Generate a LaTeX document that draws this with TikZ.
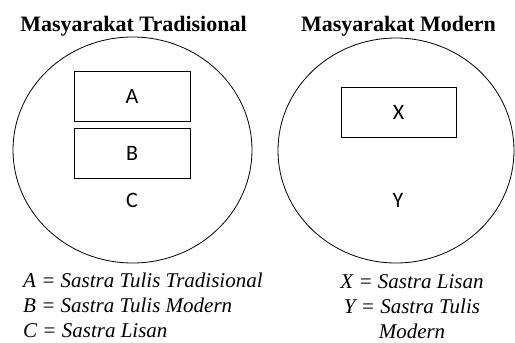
\documentclass[tikz,border=0pt]{standalone}
\usepackage{fontspec}
\setmainfont{Liberation Serif}
\newfontfamily\calibrifont{Carlito}
\usetikzlibrary{positioning,shapes.geometric}

\begin{document}
\begin{tikzpicture}[
      x=1pt, y=-1pt,
      group/.style={draw, ellipse, line width=0.8pt, inner sep=0pt},
      box/.style={draw, line width=0.9pt, minimum width=116pt, minimum height=50pt, inner sep=0pt, font=\calibrifont\fontsize{22}{26}\selectfont},
      letter/.style={inner sep=0pt, font=\calibrifont\fontsize{22}{26}\selectfont},
      title/.style={inner sep=0pt, font=\bfseries\fontsize{22}{26}\selectfont},
      legend/.style={inner sep=0pt, font=\itshape\fontsize{21}{25}\selectfont}
    ]
    \useasboundingbox (0,0) rectangle (515,343);

    \node[group, minimum width=239pt, minimum height=226pt] (trad) at (132.5,150) {};
    \node[group, minimum width=236pt, minimum height=225pt] (mod) at (396,150.5) {};

    \node[title] (tradtitle) at (133.5,26) {Masyarakat Tradisional};
    \node[title] (modtitle) at (398.5,26) {Masyarakat Modern};

    \node[box] (boxA) at (132,96) {A};
    \node[box, below=7pt of boxA] (boxB) {B};
    \node[letter] (C) at (132,200) {C};

    \node[box, minimum width=115pt] (boxX) at (398.5,112) {X};
    \node[letter] (Y) at (398,200) {Y};

    \node[legend, anchor=west, align=left] (tradlegend) at (23,305)
      {A = Sastra Tulis Tradisional\\B = Sastra Tulis Modern\\C = Sastra Lisan};
    \node[legend, anchor=north, align=center] (modlegend) at (412,274)
      {X = Sastra Lisan\\Y = Sastra Tulis\\Modern};
  \end{tikzpicture}
\end{document}
